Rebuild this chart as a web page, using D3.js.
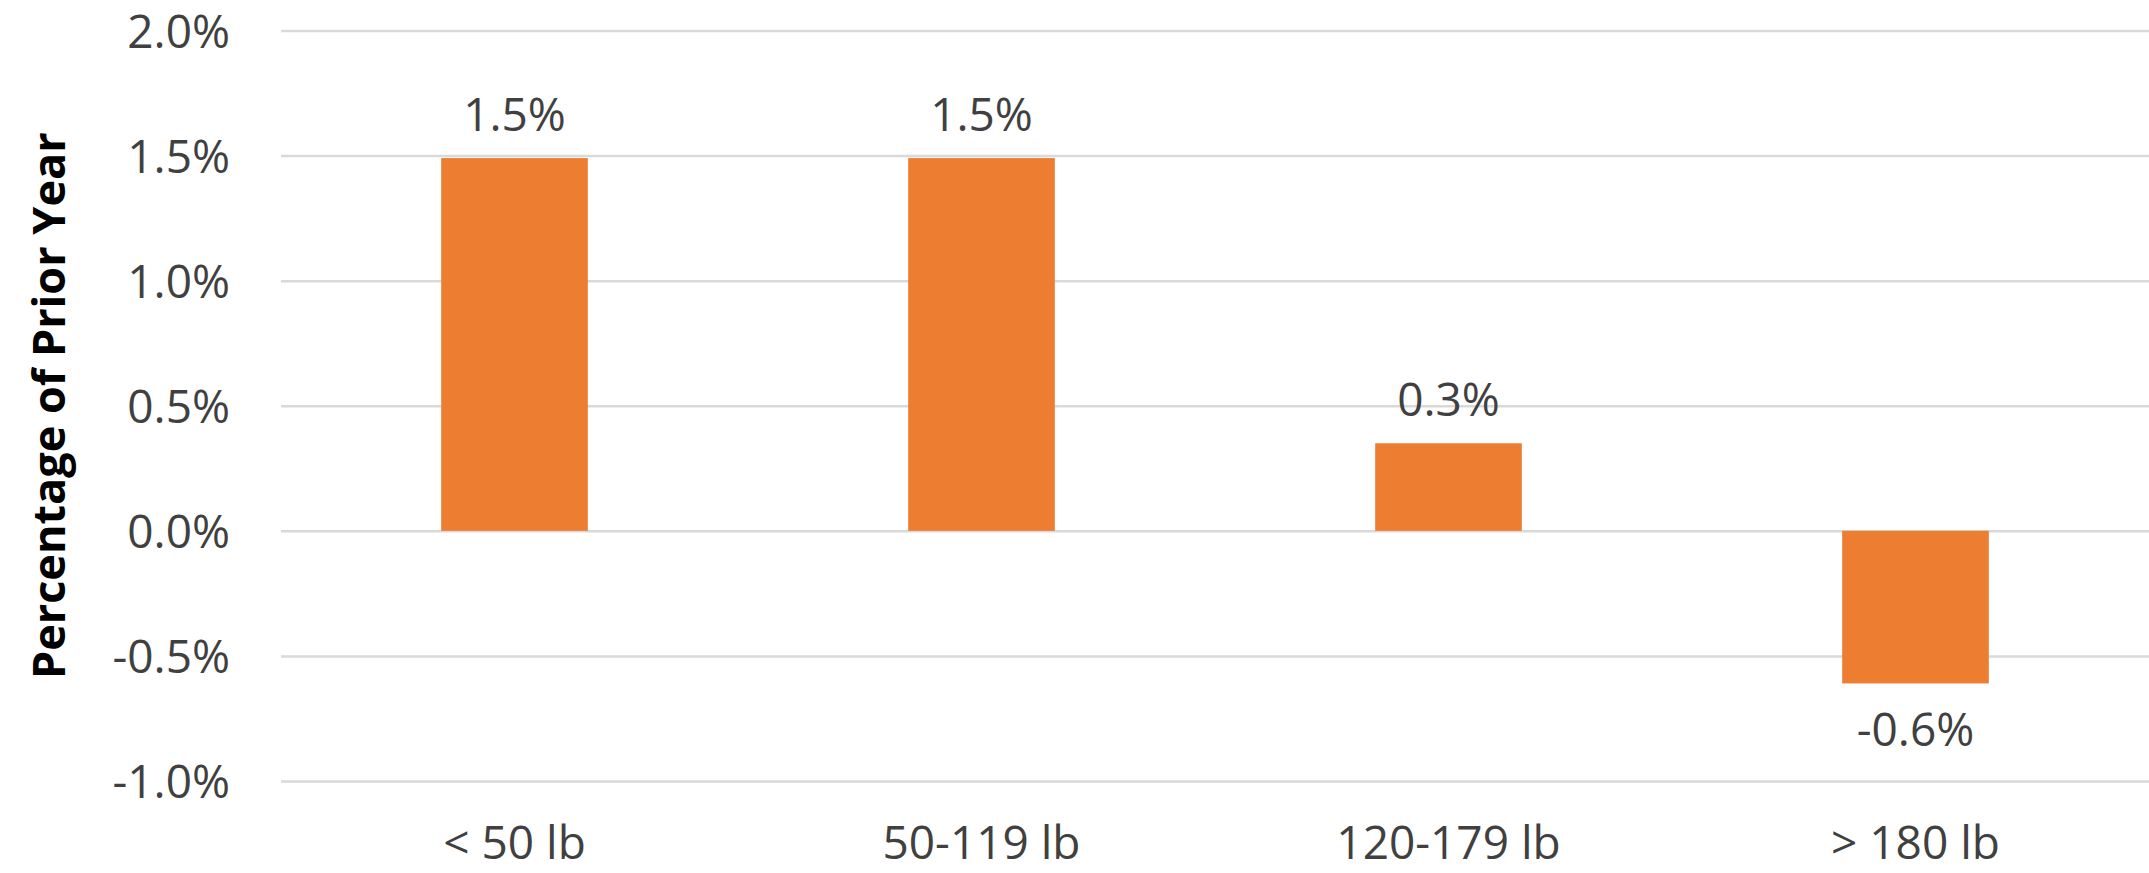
<!DOCTYPE html>
<html>
<head>
	<meta charset="UTF-8">
	<title>Percentage of Prior Year</title>
	<script src="https://d3js.org/d3.v7.min.js"></script>
	<style>
		body { margin: 0; background: #fff; }
		text { font-family: "Open Sans", sans-serif; fill: #404040; }
	</style>
</head>
<body>
	<svg width="2149" height="873"></svg>
	<script>
		var width = 2149;
		var height = 873;

		// chart data
		const categories = ["< 50 lb", "50-119 lb", "120-179 lb", "> 180 lb"];
		const values = [1.49, 1.49, 0.35, -0.61];
		const yTicks = [-1.0, -0.5, 0.0, 0.5, 1.0, 1.5, 2.0];

		const margin = {top: 30.5, right: 0, bottom: 92, left: 281};
		const svg = d3.select("svg");

		const x = d3.scaleBand()
			.domain(categories)
			.range([margin.left, width - margin.right])
			.paddingInner(0.686)
			.paddingOuter(0.343);

		const y = d3.scaleLinear()
			.domain([-1.0, 2.0])
			.range([height - margin.bottom, margin.top]);

		// gridlines + y labels
		const yAxis = svg.append("g")
			.attr("transform", "translate(" + margin.left + ",0)")
			.call(d3.axisLeft(y)
				.tickValues(yTicks)
				.tickSize(-(width - margin.left - margin.right))
				.tickPadding(51)
				.tickFormat(d => d.toFixed(1) + "%"));
		yAxis.select(".domain").remove();
		yAxis.selectAll(".tick line")
			.attr("stroke", "#d9d9d9")
			.attr("stroke-width", 2.5);
		yAxis.selectAll(".tick text")
			.attr("font-size", 46)
			.attr("dy", "0.36em")
			.style("font-family", "Open Sans, sans-serif")
			.attr("fill", "#404040");

		// bars
		svg.selectAll(".bar")
			.data(values)
			.enter()
			.append("rect")
			.attr("class", "bar")
			.attr("x", (d, i) => x(categories[i]))
			.attr("width", x.bandwidth())
			.attr("y", d => Math.min(y(d), y(0)))
			.attr("height", d => Math.abs(y(d) - y(0)))
			.attr("fill", "#ED7D31");

		// data labels
		svg.selectAll(".label")
			.data(values)
			.enter()
			.append("text")
			.attr("class", "label")
			.attr("x", (d, i) => x(categories[i]) + x.bandwidth() / 2)
			.attr("y", d => d >= 0 ? y(d) - 27 : y(d) + 63)
			.attr("text-anchor", "middle")
			.attr("font-size", 46)
			.text(d => d.toFixed(1) + "%");

		// category labels
		svg.selectAll(".cat")
			.data(categories)
			.enter()
			.append("text")
			.attr("class", "cat")
			.attr("x", d => x(d) + x.bandwidth() / 2)
			.attr("y", 859)
			.attr("text-anchor", "middle")
			.attr("font-size", 46)
			.text(d => d);

		// y axis title
		svg.append("text")
			.attr("transform", "translate(65," + ((margin.top + height - margin.bottom) / 2) + ") rotate(-90)")
			.attr("text-anchor", "middle")
			.attr("font-size", 45)
			.attr("font-weight", "bold")
			.style("fill", "#000")
			.text("Percentage of Prior Year");
	</script>
</body>
</html>
